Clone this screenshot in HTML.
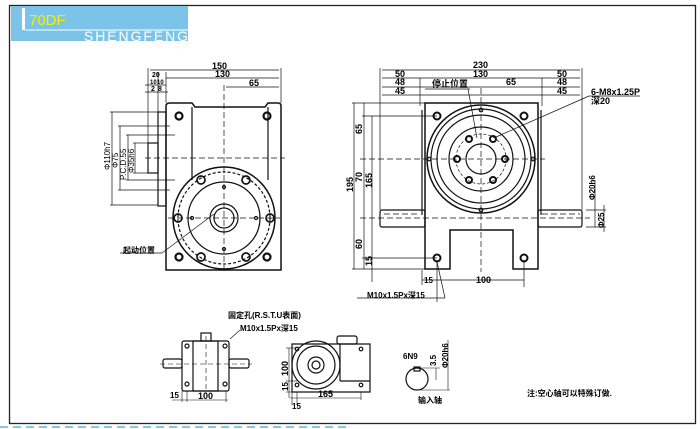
<!DOCTYPE html>
<html><head><meta charset="utf-8"><style>
html,body{margin:0;padding:0;background:#fff;}
svg{display:block;}
text{font-family:"Liberation Sans","Noto Sans CJK SC",sans-serif;fill:#000;font-weight:bold;}
</style></head><body>
<svg width="700" height="429" viewBox="0 0 700 429" xmlns="http://www.w3.org/2000/svg">
<rect x="0" y="0" width="700" height="429" fill="#fff"/>
<rect x="9.5" y="5.5" width="686" height="418" fill="none" stroke="#222" stroke-width="1.3"/>
<line x1="0" y1="427" x2="350" y2="427" stroke="#7fc8ee" stroke-width="2" stroke-dasharray="8,5"/>
<rect x="11" y="6" width="177" height="35" fill="#7cc3ea"/>
<rect x="22" y="8" width="3" height="22" fill="#fff"/>
<line x1="25" y1="30" x2="188" y2="30" stroke="#fff" stroke-width="1"/>
<text x="29" y="25" font-size="15" style="fill:#f5f000;font-weight:normal">70DF</text>
<text x="84" y="41" font-size="14" style="fill:#fff;font-weight:normal" textLength="104">SHENGFENG</text>

<g stroke="#111" fill="none" stroke-width="1.2">
<path d="M166 270 V106 Q166 103 170 103 H192 L195 107 H265 L268 103 H278 Q281 103 281 106 V270 Z" stroke-width="1.5"/>
<line x1="192" y1="107" x2="192" y2="180"/><line x1="268" y1="107" x2="268" y2="180"/>
<rect x="158" y="112" width="8" height="94"/>
<rect x="148" y="143" width="10" height="30"/>
<circle cx="224" cy="218" r="51" stroke-width="1.5"/>
<circle cx="224" cy="218" r="46" stroke-dasharray="3,2"/>
<circle cx="224" cy="218" r="36"/>
<circle cx="224" cy="218" r="14"/>
<circle cx="224" cy="218" r="10"/>
<circle cx="179" cy="116" r="3.5" stroke-width="2.2"/><circle cx="267" cy="116" r="3.5" stroke-width="2.2"/>
<circle cx="179" cy="257" r="3.5" stroke-width="2.2"/><circle cx="267" cy="257" r="3.5" stroke-width="2.2"/>
<g stroke-width="1.7">
<circle cx="201" cy="180" r="4"/><circle cx="246" cy="180" r="4"/>
<circle cx="178" cy="218" r="4"/><circle cx="270" cy="218" r="4"/>
<circle cx="201" cy="257" r="4"/><circle cx="246" cy="257" r="4"/>
</g>
<circle cx="224" cy="187" r="1.5"/><circle cx="224" cy="249" r="1.5"/><circle cx="192" cy="218" r="1.5"/><circle cx="256" cy="218" r="1.5"/>
<g stroke-dasharray="6,3" stroke-width="0.7">
<line x1="224" y1="85" x2="224" y2="272"/><line x1="145" y1="158" x2="285" y2="158"/><line x1="168" y1="218" x2="280" y2="218"/>
</g>
<g stroke-width="0.7">
<line x1="148" y1="68" x2="148" y2="143"/><line x1="281" y1="68" x2="281" y2="103"/>
<line x1="150" y1="70" x2="279" y2="70"/><line x1="166" y1="78" x2="279" y2="78"/><line x1="226" y1="87" x2="279" y2="87"/>
<line x1="158" y1="72" x2="158" y2="112"/><line x1="166" y1="72" x2="166" y2="103"/>
<line x1="145" y1="85" x2="166" y2="85"/><line x1="145" y1="92" x2="168" y2="92"/>
<line x1="110" y1="112" x2="158" y2="112"/><line x1="110" y1="205" x2="158" y2="205"/><line x1="112" y1="112" x2="112" y2="205"/>
<line x1="118" y1="126" x2="170" y2="126"/><line x1="118" y1="190" x2="170" y2="190"/><line x1="120" y1="126" x2="120" y2="190"/>
<line x1="126" y1="135" x2="175" y2="135"/><line x1="126" y1="180" x2="175" y2="180"/><line x1="128" y1="135" x2="128" y2="180"/>
<line x1="133" y1="143" x2="148" y2="143"/><line x1="133" y1="173" x2="148" y2="173"/><line x1="135" y1="143" x2="135" y2="173"/>
<line x1="120" y1="253" x2="162" y2="253"/><line x1="162" y1="253" x2="214" y2="214"/>
</g>
</g>
<g font-size="9">
<text x="212" y="69">150</text><text x="215" y="77">130</text><text x="249" y="86">65</text>
<text x="152" y="77" font-size="7">20</text><text x="150" y="84" font-size="6">10</text><text x="157" y="84" font-size="6">10</text>
<text x="151" y="91" font-size="7">2</text><text x="158" y="91" font-size="7">8</text>
<text x="123" y="253" font-size="8">起动位置</text>
<text transform="translate(110,170) rotate(-90)" font-size="8" style="font-weight:normal">Φ110h7</text>
<text transform="translate(118,168) rotate(-90)" font-size="8" style="font-weight:normal">Φ75</text>
<text transform="translate(126,180) rotate(-90)" font-size="8" style="font-weight:normal">P.C.D.55</text>
<text transform="translate(134,173) rotate(-90)" font-size="8" style="font-weight:normal">Φ35h6</text>
</g>

<g stroke="#111" fill="none" stroke-width="1.2">
<path d="M425 269 V103 H538 V269 H513 V230 H450 V269 Z" stroke-width="1.5"/>
<line x1="422" y1="110" x2="422" y2="215"/><line x1="541" y1="110" x2="541" y2="215"/>
<rect x="380" y="210" width="45" height="17" rx="2"/>
<rect x="538" y="210" width="44" height="17" rx="2"/>
<circle cx="481" cy="159" r="54" stroke-width="1.5"/>
<circle cx="481" cy="159" r="50"/>
<circle cx="481" cy="159" r="44"/>
<circle cx="481" cy="159" r="32"/>
<circle cx="481" cy="159" r="15"/>
<circle cx="481" cy="159" r="25" stroke-dasharray="3,2" stroke-width="0.7"/>
<g stroke-width="2">
<circle cx="469" cy="139" r="3"/><circle cx="493" cy="139" r="3"/>
<circle cx="457" cy="159" r="3"/><circle cx="505" cy="159" r="3"/>
<circle cx="469" cy="180" r="3"/><circle cx="493" cy="180" r="3"/>
<circle cx="437" cy="116" r="3.5"/><circle cx="524" cy="116" r="3.5"/>
<circle cx="437" cy="258" r="3.5"/><circle cx="524" cy="258" r="3.5"/>
</g>
<circle cx="481" cy="110" r="1.8"/><circle cx="481" cy="210" r="1.8"/><circle cx="429" cy="159" r="1.8"/><circle cx="533" cy="159" r="1.8"/>
<g stroke-dasharray="6,3" stroke-width="0.7">
<line x1="481" y1="88" x2="481" y2="272"/><line x1="360" y1="159" x2="545" y2="159"/><line x1="360" y1="218" x2="590" y2="218"/>
<line x1="384" y1="214" x2="420" y2="214"/><line x1="542" y1="214" x2="580" y2="214"/>
</g>
<g stroke-width="0.7">
<line x1="380" y1="68" x2="380" y2="210"/><line x1="582" y1="68" x2="582" y2="210"/>
<line x1="382" y1="70" x2="580" y2="70"/><line x1="382" y1="78" x2="580" y2="78"/><line x1="382" y1="87" x2="580" y2="87"/><line x1="382" y1="95" x2="580" y2="95"/>
<line x1="420" y1="78" x2="420" y2="106"/><line x1="542" y1="78" x2="542" y2="106"/>
<line x1="352" y1="103" x2="425" y2="103"/><line x1="352" y1="269" x2="450" y2="269"/><line x1="354" y1="103" x2="354" y2="269"/>
<line x1="362" y1="116" x2="437" y2="116"/><line x1="364" y1="103" x2="364" y2="269"/>
<line x1="372" y1="116" x2="372" y2="282"/><line x1="362" y1="258" x2="437" y2="258"/>
<line x1="422" y1="270" x2="422" y2="285"/><line x1="437" y1="260" x2="437" y2="302"/><line x1="524" y1="260" x2="524" y2="287"/>
<line x1="422" y1="280" x2="524" y2="280"/>
<line x1="357" y1="298" x2="445" y2="298"/><line x1="445" y1="298" x2="437" y2="262"/>
<line x1="425" y1="89" x2="470" y2="89"/><line x1="468" y1="89" x2="477" y2="138"/>
<line x1="589" y1="96" x2="640" y2="96"/><line x1="589" y1="96" x2="496" y2="137"/>
<line x1="586" y1="210" x2="606" y2="210"/><line x1="586" y1="227" x2="606" y2="227"/><line x1="595" y1="180" x2="595" y2="227"/><line x1="604" y1="205" x2="604" y2="232"/>
</g>
</g>
<g font-size="9">
<text x="473" y="68">230</text><text x="395" y="77">50</text><text x="395" y="85">48</text><text x="395" y="94">45</text>
<text x="473" y="77">130</text><text x="506" y="85">65</text>
<text x="557" y="77">50</text><text x="557" y="85">48</text><text x="557" y="94">45</text>
<text x="432" y="87" font-size="9">停止位置</text>
<text x="591" y="95" font-size="9">6-M8x1.25P</text><text x="591" y="104" font-size="9">深20</text>
<text x="424" y="283" font-size="8">15</text><text x="476" y="283">100</text>
<text x="367" y="298" font-size="8">M10x1.5Px深15</text>
<text transform="translate(353,192) rotate(-90)">195</text>
<text transform="translate(362,134) rotate(-90)">65</text>
<text transform="translate(362,182) rotate(-90)">70</text>
<text transform="translate(372,188) rotate(-90)">165</text>
<text transform="translate(362,249) rotate(-90)">60</text>
<text transform="translate(372,266) rotate(-90)">15</text>
<text transform="translate(595,200) rotate(-90)" font-size="8">Φ20h6</text>
<text transform="translate(604,228) rotate(-90)" font-size="8">Φ25</text>
</g>

<g stroke="#111" fill="none" stroke-width="1.2">
<rect x="182" y="341" width="47" height="50" rx="2"/>
<rect x="193" y="341" width="25" height="50"/>
<rect x="201" y="333" width="10" height="8"/>
<rect x="163" y="359" width="19" height="9" rx="2"/><rect x="229" y="359" width="20" height="9" rx="2"/>
<circle cx="187" cy="346" r="2"/><circle cx="225" cy="346" r="2"/><circle cx="187" cy="384" r="2"/><circle cx="225" cy="384" r="2"/>
<line x1="206" y1="336" x2="206" y2="393" stroke-dasharray="5,3" stroke-width="0.6"/>
<line x1="160" y1="364" x2="252" y2="364" stroke-dasharray="5,3" stroke-width="0.6"/>
<line x1="182" y1="391" x2="182" y2="402" stroke-width="0.6"/><line x1="187" y1="391" x2="187" y2="402" stroke-width="0.6"/><line x1="226" y1="391" x2="226" y2="402" stroke-width="0.6"/>
<line x1="172" y1="400" x2="228" y2="400" stroke-width="0.6"/>
<line x1="230" y1="339" x2="240" y2="330" stroke-width="0.6"/>

<path d="M292 392 V344 H370 V392 Z"/>
<line x1="340" y1="344" x2="340" y2="381"/><line x1="340" y1="381" x2="370" y2="381"/>
<rect x="337" y="336" width="20" height="8" rx="2"/>
<circle cx="316" cy="365" r="24"/><circle cx="316" cy="365" r="19"/><circle cx="316" cy="365" r="8"/><circle cx="316" cy="365" r="4"/>
<circle cx="297" cy="349" r="1.8"/><circle cx="361" cy="349" r="1.8"/><circle cx="297" cy="385" r="1.8"/><circle cx="361" cy="385" r="1.8"/>
<g stroke-width="0.6">
<line x1="286" y1="348" x2="297" y2="348"/><line x1="286" y1="381" x2="297" y2="381"/><line x1="286" y1="392" x2="297" y2="392"/>
<line x1="289" y1="348" x2="289" y2="398"/>
<line x1="292" y1="392" x2="292" y2="405"/><line x1="297" y1="392" x2="297" y2="405"/><line x1="361" y1="392" x2="361" y2="400"/>
<line x1="290" y1="398" x2="361" y2="398"/>
</g>
<circle cx="417" cy="379" r="11"/>
<rect x="414" y="367" width="6" height="4"/>
<g stroke-width="0.6">
<line x1="420" y1="368" x2="440" y2="368"/><line x1="420" y1="390" x2="450" y2="390"/>
<line x1="436" y1="368" x2="436" y2="380"/><line x1="448" y1="340" x2="448" y2="390"/>
</g>
</g>
<g font-size="8">
<text x="228" y="318">固定孔(R.S.T.U表面)</text>
<text x="240" y="331">M10x1.5Px深15</text>
<text x="170" y="398">15</text><text x="198" y="399" font-size="9">100</text>
<text transform="translate(288,376) rotate(-90)" font-size="9">100</text>
<text transform="translate(288,391) rotate(-90)">15</text>
<text x="318" y="397" font-size="9">165</text><text x="292" y="409">15</text>
<text x="403" y="359">6N9</text>
<text transform="translate(436,366) rotate(-90)">3.5</text>
<text transform="translate(448,368) rotate(-90)">Φ20h6</text>
<text x="418" y="403">输入轴</text>
<text x="527" y="396">注:空心轴可以特殊订做.</text>
</g>
</svg>
</body></html>
